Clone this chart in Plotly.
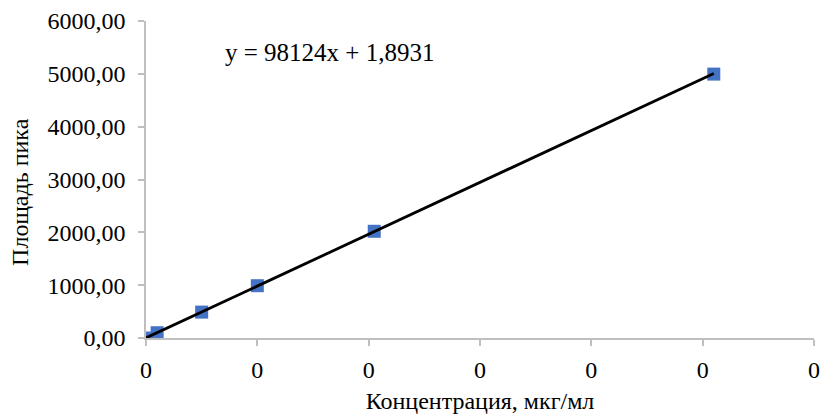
import plotly.graph_objects as go

# Calibration data: concentration (мкг/мл) vs. peak area
conc = [0, 0.001, 0.005, 0.01, 0.0205, 0.051]
area = [0, 100, 490, 990, 2020, 4995]

# Linear trendline coefficients
slope = 98124
intercept = 1.8931

x_fit = [min(conc), max(conc)]
y_fit = [slope * x + intercept for x in x_fit]

FONT = "'Times New Roman', 'Liberation Serif', serif"
AXIS_GREY = "#BFBFBF"

fig = go.Figure()
fig.add_trace(go.Scatter(
    x=conc, y=area, mode="markers",
    marker=dict(symbol="square", size=13, color="#4472C4",
                line=dict(width=0)),
    showlegend=False,
))
fig.add_trace(go.Scatter(
    x=x_fit, y=y_fit, mode="lines",
    line=dict(color="black", width=2.8),
    showlegend=False,
))

# Trendline equation
fig.add_annotation(
    x=0.275, y=0.90, xref="paper", yref="paper",
    xanchor="center", yanchor="middle",
    text="y = 98124x + 1,8931", showarrow=False,
    font=dict(family=FONT, size=25, color="black"),
)

# Vertical axis title
fig.add_annotation(
    x=-0.189, y=0.46, xref="paper", yref="paper",
    xanchor="center", yanchor="middle", textangle=-90,
    text="Площадь пика", showarrow=False,
    font=dict(family=FONT, size=24, color="black"),
)

fig.update_layout(
    width=821, height=416,
    margin=dict(l=146, r=7, t=21, b=78),
    paper_bgcolor="white", plot_bgcolor="white",
    separators=",.",
    font=dict(family=FONT, color="black"),
    xaxis=dict(
        range=[0, 0.06], dtick=0.01, tick0=0, tickformat=".0f",
        showgrid=False, zeroline=False, automargin=False,
        showline=True, linecolor=AXIS_GREY, linewidth=1.5,
        ticks="outside", ticklen=6, tickcolor=AXIS_GREY, tickwidth=1.5,
        ticklabelstandoff=3,
        tickfont=dict(family=FONT, size=24, color="black"),
        title=dict(text="Концентрация, мкг/мл", standoff=11,
                   font=dict(family=FONT, size=24, color="black")),
    ),
    yaxis=dict(
        range=[0, 6000], dtick=1000, tickformat=".2f",
        showgrid=False, zeroline=False, automargin=False,
        showline=True, linecolor=AXIS_GREY, linewidth=1.5,
        ticks="outside", ticklen=6, tickcolor=AXIS_GREY, tickwidth=1.5,
        ticklabelstandoff=8,
        tickfont=dict(family=FONT, size=24, color="black"),
    ),
)

fig.write_html("out.html")
